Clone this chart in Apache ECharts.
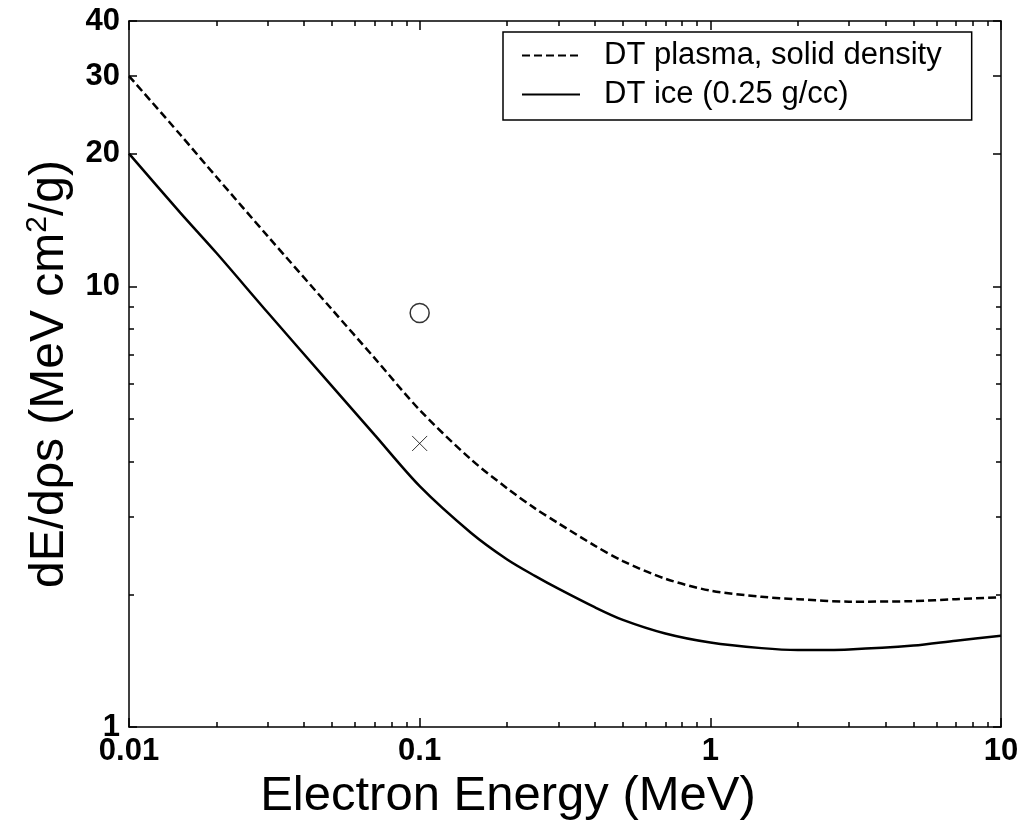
<!DOCTYPE html>
<html>
<head>
<meta charset="utf-8">
<script src="https://cdn.jsdelivr.net/npm/echarts@6/dist/echarts.min.js"></script>
<style>
html,body{margin:0;padding:0;background:#fff;}
#chart{width:1023px;height:823px;}
</style>
</head>
<body>
<div id="chart"></div>
<script>
// ---- data ----
var energy = [0.01, 0.015, 0.02, 0.03, 0.05, 0.07, 0.1, 0.15, 0.2, 0.25, 0.3, 0.4, 0.5, 0.7, 1, 1.5, 2, 3, 5, 7, 10];
var plasma = [30, 22.1, 17.7, 13.0, 8.85, 6.87, 5.24, 4.05, 3.48, 3.13, 2.9, 2.58, 2.38, 2.17, 2.04, 1.975, 1.95, 1.925, 1.93, 1.95, 1.97];
var ice    = [20, 14.7, 11.9, 8.72, 5.93, 4.6, 3.52, 2.76, 2.40, 2.20, 2.06, 1.87, 1.75, 1.63, 1.555, 1.51, 1.495, 1.50, 1.53, 1.57, 1.61];
var circlePoint = [0.1, 8.7];
var crossPoint = [0.1, 4.4];
var seriesNames = ['DT plasma, solid density', 'DT ice (0.25 g/cc)'];
var xLabels = [0.01, 0.1, 1, 10];
var xMajorTicks = [0.01, 0.1, 1, 10];
var xMinorTicks = [0.02,0.03,0.04,0.05,0.06,0.07,0.08,0.09,0.2,0.3,0.4,0.5,0.6,0.7,0.8,0.9,2,3,4,5,6,7,8,9];
var yLabels = [1, 10, 20, 30, 40];
var yMajorTicks = [1, 10, 20, 30, 40];
var yMinorTicks = [2,3,4,5,6,7,8,9];

var FONT = 'Liberation Sans, Arial, sans-serif';
function pairs(xs, ys){ return xs.map(function(x,i){ return [x, ys[i]]; }); }
function fmt(v){ return String(+(+v).toPrecision(3)); }

function axisBase(min, max, pos){
  return {
    type: 'log', logBase: 10, min: min, max: max, position: pos,
    splitLine: {show: false}, minorTick: {show: false}, minorSplitLine: {show: false}
  };
}
function tickAxis(min, max, pos, ticks, len){
  var a = axisBase(min, max, pos);
  a.axisLine = {show: false};
  a.axisLabel = {show: false};
  a.axisTick = {show: true, inside: true, length: len, customValues: ticks, lineStyle: {color: '#000', width: 1.5}};
  return a;
}

var xMain = axisBase(0.01, 10, 'bottom');
xMain.axisLine = {show: true, onZero: false, lineStyle: {color: '#000', width: 1.5}};
xMain.axisTick = {show: true, inside: true, length: 9, customValues: xMajorTicks, lineStyle: {color: '#000', width: 1.5}};
xMain.axisLabel = {show: true, customValues: xLabels, formatter: fmt, margin: 9,
  fontFamily: FONT, fontWeight: 'bold', fontSize: 31, color: '#000'};
xMain.name = 'Electron Energy (MeV)';
xMain.nameLocation = 'middle';
xMain.nameGap = 38;
xMain.nameTextStyle = {fontFamily: FONT, fontSize: 49, color: '#000', padding: [0, 114, 0, 0]};

var xTop = axisBase(0.01, 10, 'top');
xTop.axisLine = {show: true, onZero: false, lineStyle: {color: '#000', width: 1.5}};
xTop.axisTick = {show: true, inside: true, length: 9, customValues: xMajorTicks, lineStyle: {color: '#000', width: 1.5}};
xTop.axisLabel = {show: false};

var yMain = axisBase(1, 40, 'left');
yMain.axisLine = {show: true, onZero: false, lineStyle: {color: '#000', width: 1.5}};
yMain.axisTick = {show: true, inside: true, length: 8, customValues: yMajorTicks, lineStyle: {color: '#000', width: 1.5}};
yMain.axisLabel = {show: true, customValues: yLabels, formatter: fmt, margin: 9,
  fontFamily: FONT, fontWeight: 'bold', fontSize: 31, color: '#000'};
yMain.name = '{a|dE/dρs (MeV cm}{s|2}{a|/g)}';
yMain.nameLocation = 'middle';
yMain.nameGap = 52;
yMain.nameRotate = 90;
yMain.nameTextStyle = {
  rich: {
    a: {fontFamily: FONT, fontSize: 48, color: '#000', lineHeight: 54},
    s: {fontFamily: FONT, fontSize: 30, color: '#000', verticalAlign: 'top', lineHeight: 54}
  }
};

var yRight = axisBase(1, 40, 'right');
yRight.axisLine = {show: true, onZero: false, lineStyle: {color: '#000', width: 1.5}};
yRight.axisTick = {show: true, inside: true, length: 8, customValues: yMajorTicks, lineStyle: {color: '#000', width: 1.5}};
yRight.axisLabel = {show: false};

var option = {
  backgroundColor: '#fff',
  animation: false,
  grid: {left: 129, right: 22, top: 21, bottom: 96, containLabel: false, outerBoundsMode: 'none'},
  legend: {
    data: seriesNames,
    orient: 'vertical',
    left: 503, top: 32,
    padding: [8, 30, 10, 18],
    itemGap: 8,
    itemWidth: 58, itemHeight: 14,
    borderColor: '#000', borderWidth: 1.5,
    backgroundColor: '#fff',
    itemStyle: {color: 'rgba(0,0,0,0)', borderWidth: 0, opacity: 0},
    textStyle: {fontFamily: FONT, fontSize: 31, color: '#000', lineHeight: 30, padding: [0, 0, 0, 19]}
  },
  xAxis: [
    xMain,
    tickAxis(0.01, 10, 'bottom', xMinorTicks, 5),
    xTop,
    tickAxis(0.01, 10, 'top', xMinorTicks, 5)
  ],
  yAxis: [
    yMain,
    tickAxis(1, 40, 'left', yMinorTicks, 5),
    yRight,
    tickAxis(1, 40, 'right', yMinorTicks, 5)
  ],
  series: [
    {
      name: seriesNames[0], type: 'line', xAxisIndex: 0, yAxisIndex: 0,
      data: pairs(energy, plasma), smooth: 0.3, symbol: 'none',
      lineStyle: {color: '#000', width: 2.5, type: [8, 4]}, itemStyle: {color: '#000'}
    },
    {
      name: seriesNames[1], type: 'line', xAxisIndex: 0, yAxisIndex: 0,
      data: pairs(energy, ice), smooth: 0.3, symbol: 'none',
      lineStyle: {color: '#000', width: 2.5, type: 'solid'}, itemStyle: {color: '#000'}
    },
    {
      type: 'scatter', xAxisIndex: 0, yAxisIndex: 0,
      data: [circlePoint], symbol: 'circle', symbolSize: 19,
      itemStyle: {color: 'rgba(0,0,0,0)', borderColor: '#000', borderWidth: 1.5}
    },
    {
      type: 'scatter', xAxisIndex: 0, yAxisIndex: 0,
      data: [crossPoint], symbol: 'path://M0,0L10,10M10,0L0,10', symbolSize: 15,
      itemStyle: {color: 'rgba(0,0,0,0)', borderColor: '#000', borderWidth: 1}
    }
  ]
};

var chart = echarts.init(document.getElementById('chart'), null, {renderer: 'canvas'});
chart.setOption(option);
</script>
</body>
</html>
